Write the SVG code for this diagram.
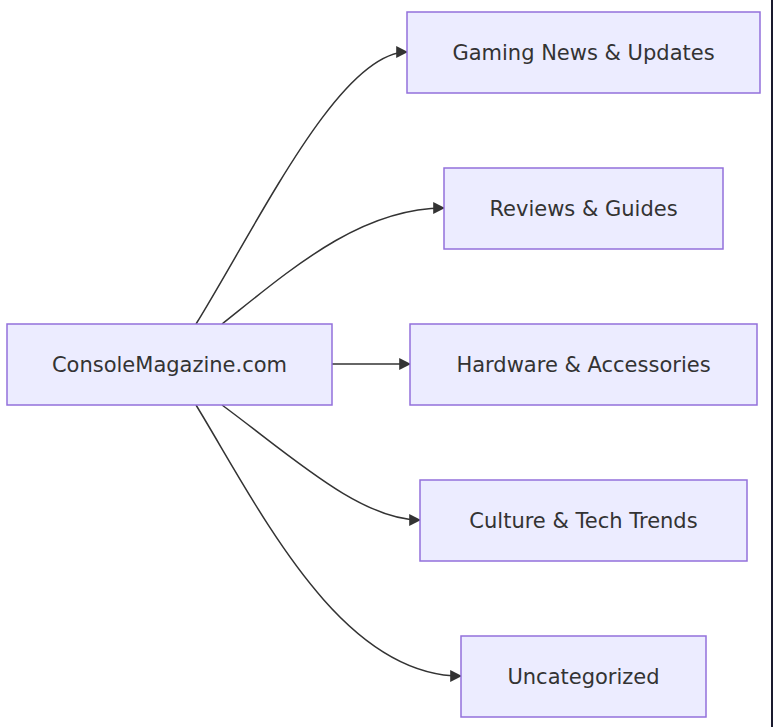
<svg xmlns="http://www.w3.org/2000/svg" width="773" height="727" viewBox="0 0 773 727">
<style>
.n{fill:#ECECFF;stroke:#9370DB;stroke-width:1.5}
.t{font-family:"DejaVu Sans",sans-serif;font-size:21px;fill:#333;text-anchor:middle;dominant-baseline:central}
.e{fill:none;stroke:#333;stroke-width:1.5;marker-end:url(#a)}
</style>
<defs><marker id="a" viewBox="0 0 10 10" refX="9" refY="5" markerWidth="8" markerHeight="8" orient="auto"><path d="M0,0L10,5L0,10z" fill="#333"/></marker></defs>
<rect width="773" height="727" fill="#1a1a2e"/>
<rect x="-10" y="-10" width="781" height="747" rx="10" fill="#fff"/>
<g id="edges">
<path class="e" d="M196,324C260,220 340,52 407,52"/>
<path class="e" d="M222,324C290,270 360,208 444,208"/>
<path class="e" d="M332,364L410,364"/>
<path class="e" d="M222,405C290,455 360,520 420,520"/>
<path class="e" d="M196,405C260,510 340,676 461,676"/>
</g>
<g id="console"><rect class="n" x="7" y="324" width="325" height="81"/><text class="t" x="169.5" y="364.5">ConsoleMagazine.com</text></g>
<g id="gaming"><rect class="n" x="407" y="12" width="353" height="81"/><text class="t" x="583.5" y="52.5">Gaming News &amp; Updates</text></g>
<g id="reviews"><rect class="n" x="444" y="168" width="279" height="81"/><text class="t" x="583.5" y="208.5">Reviews &amp; Guides</text></g>
<g id="hardware"><rect class="n" x="410" y="324" width="347" height="81"/><text class="t" x="583.5" y="364.5">Hardware &amp; Accessories</text></g>
<g id="culture"><rect class="n" x="420" y="480" width="327" height="81"/><text class="t" x="583.5" y="520.5">Culture &amp; Tech Trends</text></g>
<g id="uncat"><rect class="n" x="461" y="636" width="245" height="81"/><text class="t" x="583.5" y="676.5">Uncategorized</text></g>
</svg>
